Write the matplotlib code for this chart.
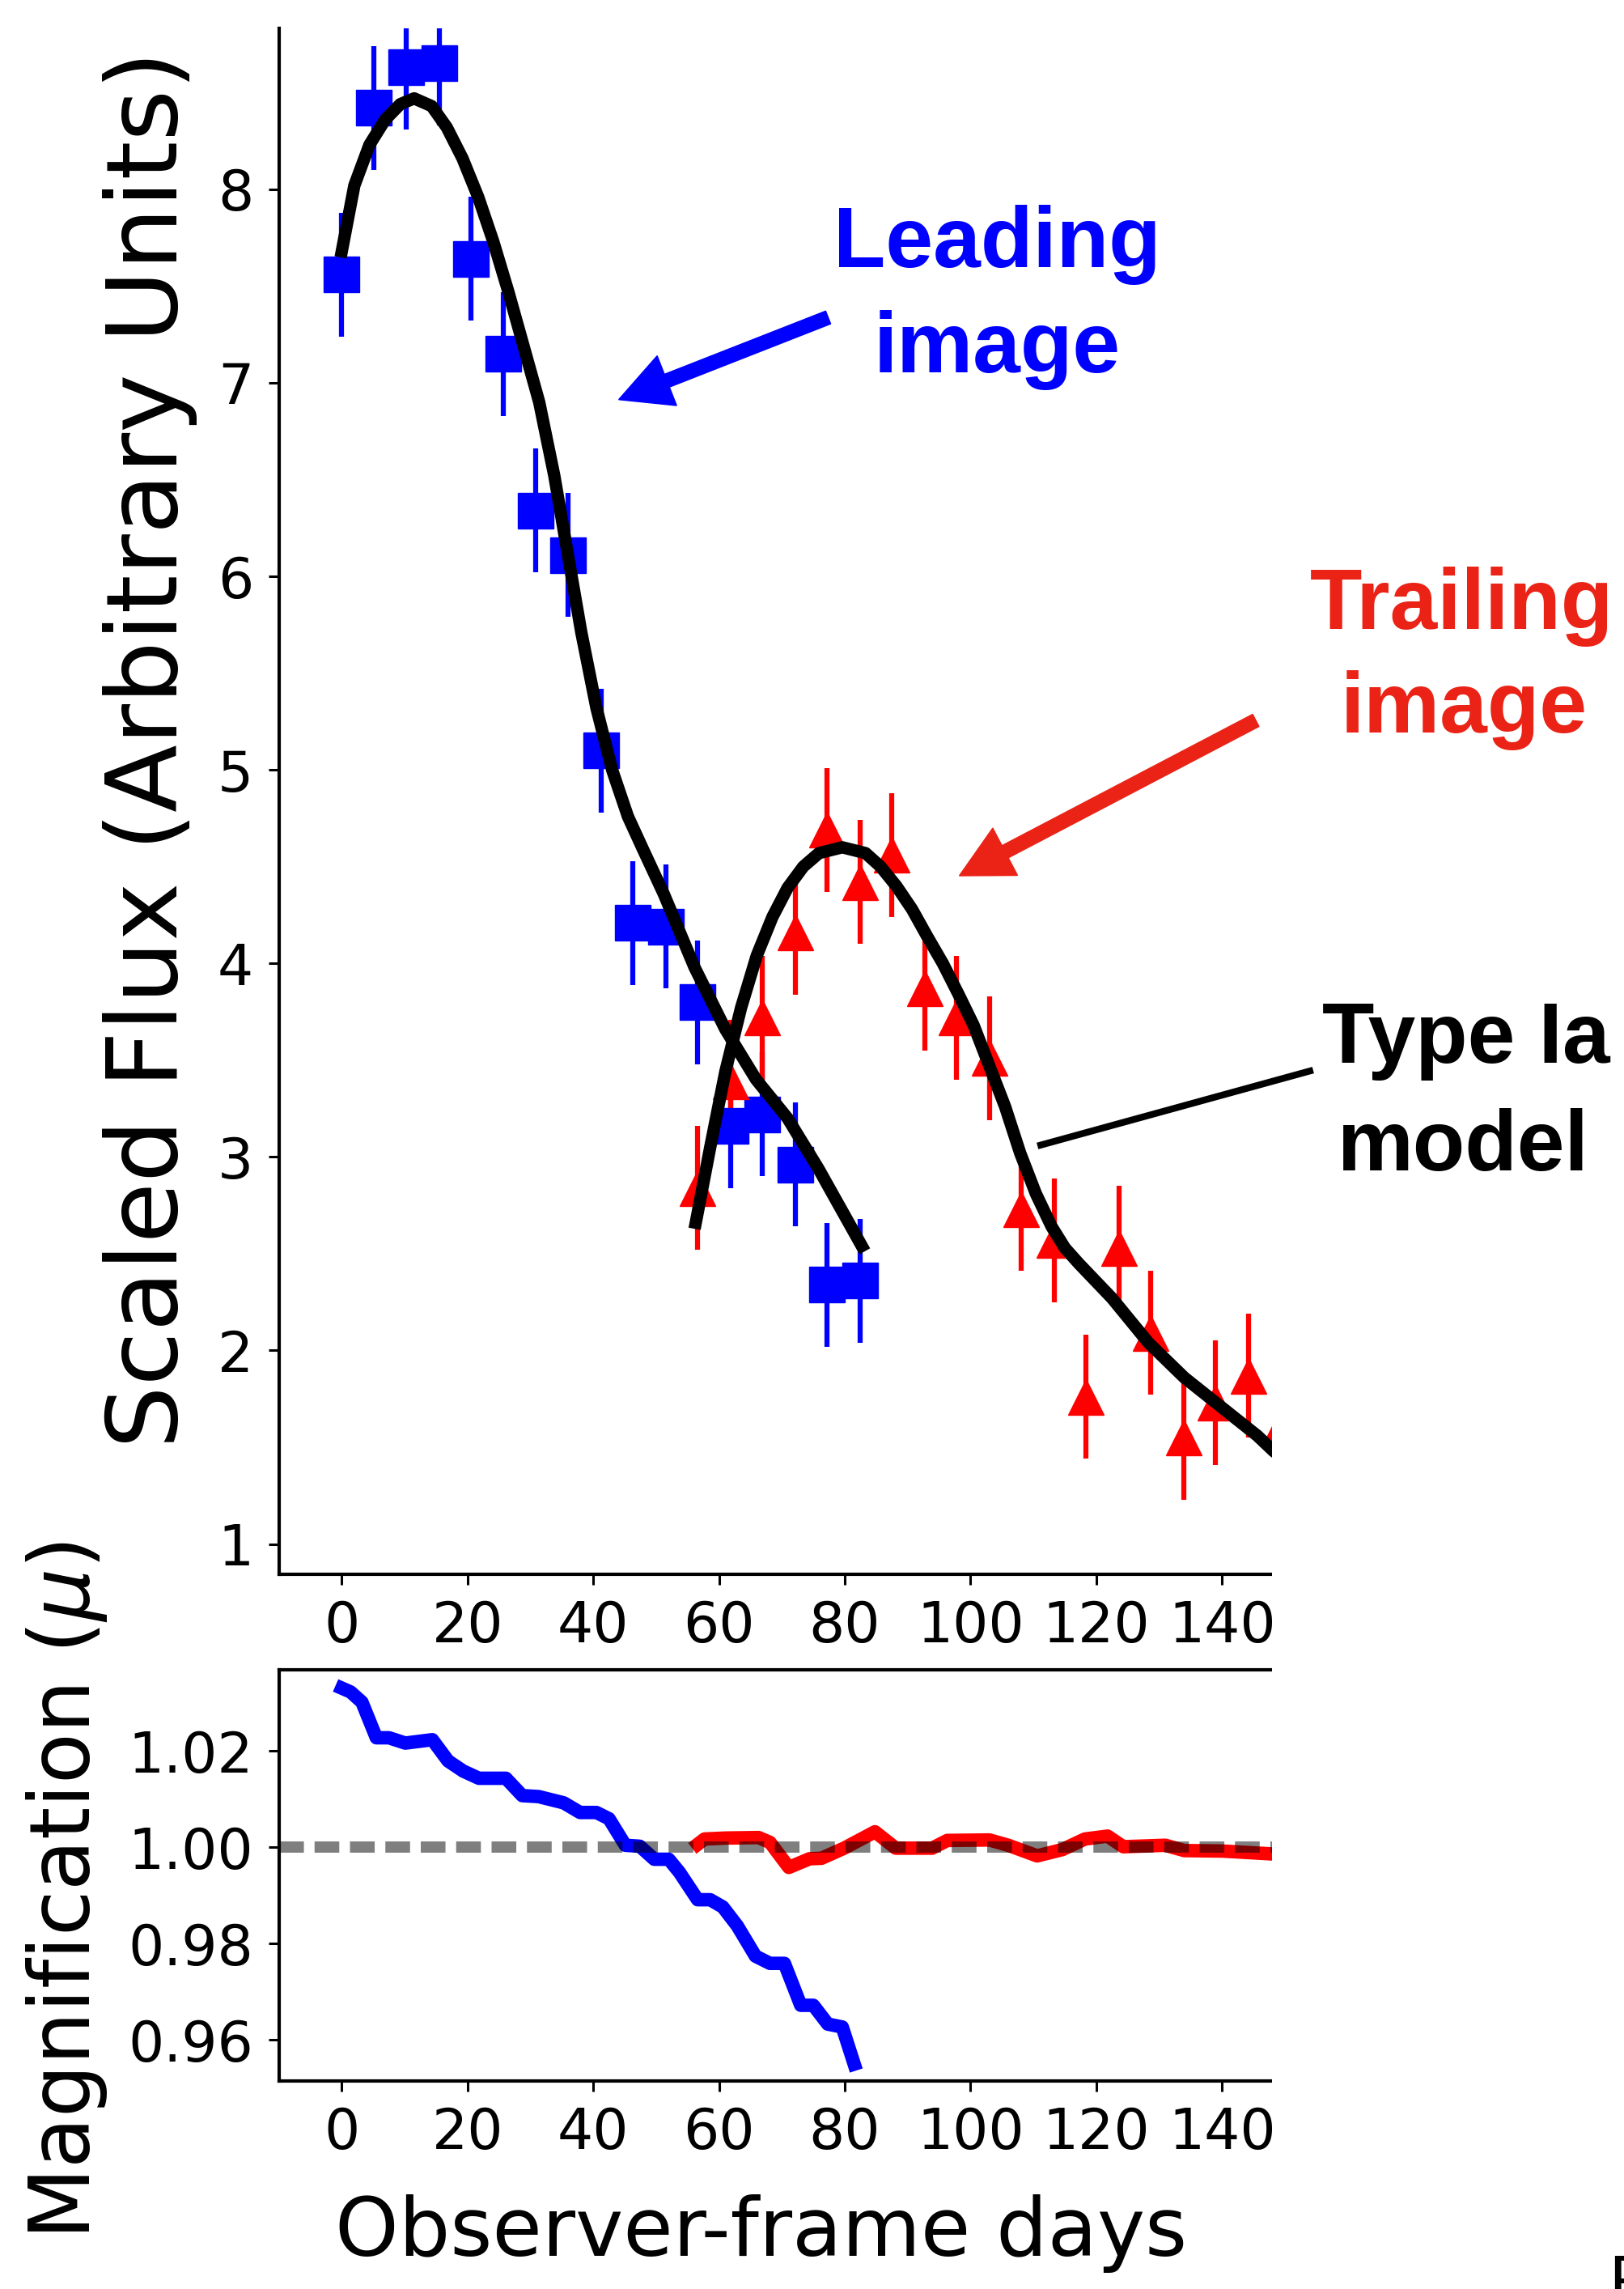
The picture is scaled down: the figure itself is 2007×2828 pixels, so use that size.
import matplotlib
matplotlib.use("Agg")
import matplotlib.pyplot as plt
from matplotlib.patches import Rectangle, FancyArrow
from matplotlib.lines import Line2D
from matplotlib.ticker import FormatStrFormatter

# leading image photometry
lead_days = [0.0, 5.1, 10.3, 15.5, 20.6, 25.7, 30.9, 36.0, 41.2, 46.3, 51.5,
             56.6, 61.8, 66.9, 72.1, 77.2, 82.4]
lead_flux = [7.56, 8.42, 8.63, 8.65, 7.64, 7.15, 6.34, 6.11, 5.10, 4.21, 4.19,
             3.80, 3.16, 3.22, 2.96, 2.34, 2.36]
lead_err = [0.32, 0.32, 0.32, 0.32, 0.32, 0.32, 0.32, 0.32, 0.32, 0.32, 0.32,
            0.32, 0.32, 0.32, 0.32, 0.32, 0.32]

# trailing image photometry
trail_days = [56.6, 61.8, 66.9, 72.1, 77.2, 82.4, 87.5, 92.7, 97.8, 103.0,
              108.1, 113.3, 118.4, 123.6, 128.7, 133.9, 139.0, 144.2, 149.3]
trail_flux = [2.84, 3.39, 3.72, 4.16, 4.69, 4.42, 4.56, 3.87, 3.72, 3.51,
              2.73, 2.57, 1.76, 2.53, 2.09, 1.55, 1.73, 1.87, 1.60]
trail_err = [0.32, 0.32, 0.32, 0.32, 0.32, 0.32, 0.32, 0.32, 0.32, 0.32,
             0.32, 0.32, 0.32, 0.32, 0.32, 0.32, 0.32, 0.32, 0.32]

# Type Ia model curves
lead_model_days = [0.0, 2.0, 4.4, 6.9, 9.3, 11.5, 14.3, 16.7, 19.2, 21.7, 24.1,
                   26.5, 29.0, 31.4, 33.8, 35.6, 38.1, 40.5, 43.0, 45.5, 47.9,
                   51.2, 56.1, 61.0, 65.9, 70.9, 75.8, 82.7]
lead_model_flux = [7.68, 8.02, 8.23, 8.36, 8.44, 8.47, 8.43, 8.32, 8.16, 7.96, 7.73,
                   7.47, 7.18, 6.90, 6.52, 6.18, 5.71, 5.32, 5.00, 4.76, 4.59,
                   4.36, 3.98, 3.66, 3.40, 3.20, 2.94, 2.54]
trail_model_days = [56.3, 58.6, 61.0, 63.5, 66.0, 68.5, 70.9, 73.4, 75.9, 79.6,
                    83.3, 85.7, 88.2, 90.7, 93.1, 95.6, 98.1, 100.5, 103.0, 105.5,
                    107.9, 110.4, 112.9, 115.0, 117.2, 122.5, 128.3, 134.0, 139.8,
                    145.6, 148.2, 151.0]
trail_model_flux = [2.66, 3.05, 3.44, 3.77, 4.04, 4.24, 4.39, 4.50, 4.57, 4.60,
                    4.57, 4.50, 4.40, 4.28, 4.14, 4.00, 3.84, 3.68, 3.47, 3.26,
                    3.02, 2.81, 2.64, 2.53, 2.45, 2.27, 2.04, 1.86, 1.71,
                    1.56, 1.48, 1.41]

# magnification along each image
mag_lead_days = [0.0, 1.4, 3.2, 5.5, 7.5, 10.1, 14.4, 16.9, 19.3, 21.8, 26.1,
                 28.7, 31.3, 35.3, 37.9, 40.5, 42.5, 45.1, 47.4, 49.7, 52.0,
                 53.7, 56.6, 58.6, 60.6, 62.9, 65.8, 68.1, 70.4, 73.0, 75.0,
                 77.3, 79.6, 81.5]
mag_lead = [1.0330, 1.0322, 1.0301, 1.0227, 1.0227, 1.0216, 1.0223, 1.0179,
            1.0158, 1.0143, 1.0143, 1.0107, 1.0105, 1.0092, 1.0072, 1.0072,
            1.0059, 1.0004, 1.0002, 0.9975, 0.9975, 0.9948, 0.9891, 0.9891,
            0.9876, 0.9837, 0.9774, 0.9759, 0.9759, 0.9672, 0.9672, 0.9633,
            0.9627, 0.9550]
mag_trail_days = [56.6, 57.7, 61.1, 66.3, 68.1, 71.1, 74.4, 76.3, 79.9, 84.8,
                  88.1, 93.9, 96.3, 103.0, 106.0, 110.6, 114.6, 118.2, 121.8,
                  124.3, 131.0, 134.0, 140.1, 148.0, 151.0]
mag_trail = [1.0006, 1.0017, 1.0019, 1.0020, 1.0010, 0.9958, 0.9976, 0.9977,
             0.9998, 1.0032, 0.9998, 0.9998, 1.0014, 1.0015, 1.0004, 0.9982,
             0.9995, 1.0017, 1.0023, 1.0001, 1.0004, 0.9993, 0.9992, 0.9986,
             0.9985]

BLUE = "#0000ff"
RED = "#ff0000"
ARROW_RED = "#ea2316"

W, H, DPI = 2007, 2828, 100
plt.rcParams["font.family"] = "DejaVu Sans"


def box(left, top, right, bottom):
    # pixel box -> figure fraction [l, b, w, h]
    return [left / W, 1 - bottom / H, (right - left) / W, (bottom - top) / H]


def fx(x):
    return x / W


def fy(y):
    return 1 - y / H


fig = plt.figure(figsize=(W / DPI, H / DPI), dpi=DPI)
ax = fig.add_axes(box(344.7, 34.5, 1665.6, 1944.6))
ax2 = fig.add_axes(box(344.7, 2063, 1665.6, 2571))

# light curves
ax.errorbar(lead_days, lead_flux, yerr=lead_err, fmt="s", color=BLUE, ms=32,
            elinewidth=4.5, capsize=0, zorder=2)
ax.errorbar(trail_days, trail_flux, yerr=trail_err, fmt="^", color=RED, ms=32,
            elinewidth=4.5, capsize=0, zorder=2)
ax.plot(lead_model_days, lead_model_flux, color="k", lw=11, zorder=3,
        solid_joinstyle="round")
ax.plot(trail_model_days, trail_model_flux, color="k", lw=11, zorder=3,
        solid_joinstyle="round")
ax.set_xlim(-10, 160)
ax.set_ylim(0.845, 8.834)
ax.set_yticks(range(1, 9))
ax.set_xticks(range(0, 161, 20))
ax.spines["top"].set_visible(False)
ax.set_ylabel("Scaled Flux (Arbitrary Units)", fontsize=88, va="center")
ax.yaxis.set_label_coords(fx(186), fy(926), transform=fig.transFigure)

# magnification panel
ax2.plot(mag_lead_days, mag_lead, color=BLUE, lw=12)
ax2.plot(mag_trail_days, mag_trail, color=RED, lw=12)
ax2.axhline(1.0, color="k", alpha=0.5, lw=10, ls=(0, (2.2, 0.95)), zorder=4)
ax2.set_xlim(-10, 160)
ax2.set_ylim(0.9515, 1.0368)
ax2.set_yticks([0.96, 0.98, 1.00, 1.02])
ax2.yaxis.set_major_formatter(FormatStrFormatter("%.2f"))
ax2.set_xticks(range(0, 161, 20))
ax2.set_ylabel(r"Magnification ($\mu$)", fontsize=74, va="center")
ax2.yaxis.set_label_coords(fx(83), fy(2336), transform=fig.transFigure)
ax2.set_xlabel("Observer-frame days", fontsize=72, va="center")
ax2.xaxis.set_label_coords(fx(941), fy(2759), transform=fig.transFigure)

for a in (ax, ax2):
    a.tick_params(labelsize=50, length=9.6, width=2.2, pad=13)
    for s in a.spines.values():
        s.set_linewidth(3)

# the panels are cut off on the right
fig.add_artist(Rectangle((fx(1572), 0), 1, 1, transform=fig.transFigure,
                         facecolor="white", edgecolor="none", zorder=5))

# arrows and labels (positions in inches)
inch = fig.dpi_scale_trans
fig.add_artist(FancyArrow(10.235, 24.358, -2.589, -1.015, width=0.17,
                          head_width=0.66, head_length=0.64,
                          length_includes_head=True, color=BLUE,
                          transform=inch, zorder=6))
fig.add_artist(FancyArrow(15.52, 19.38, -3.665, -1.92, width=0.17,
                          head_width=0.66, head_length=0.64,
                          length_includes_head=True, color=ARROW_RED,
                          transform=inch, zorder=6))
fig.add_artist(Line2D([12.862, 16.188], [14.133, 15.048], color="k", lw=6,
                      transform=inch, zorder=6))

bold = dict(family="Liberation Sans", fontweight="bold", fontsize=76,
            ha="center", va="baseline", zorder=7)
fig.text(fx(1232), fy(330), "Leading", color=BLUE, **bold)
fig.text(fx(1232), fy(460), "image", color=BLUE, **bold)
fig.text(fx(1807), fy(777), "Trailing", color=ARROW_RED, **bold)
fig.text(fx(1809), fy(905), "image", color=ARROW_RED, **bold)
fig.text(fx(1812), fy(1313), "Type Ia", color="k", **bold)
fig.text(fx(1808), fy(1446), "model", color="k", **bold)

fig.text(fx(1988), fy(2782), "F", fontsize=60, family="Liberation Sans",
         ha="left", va="top", zorder=7)

fig.savefig("out.png", dpi=DPI)
